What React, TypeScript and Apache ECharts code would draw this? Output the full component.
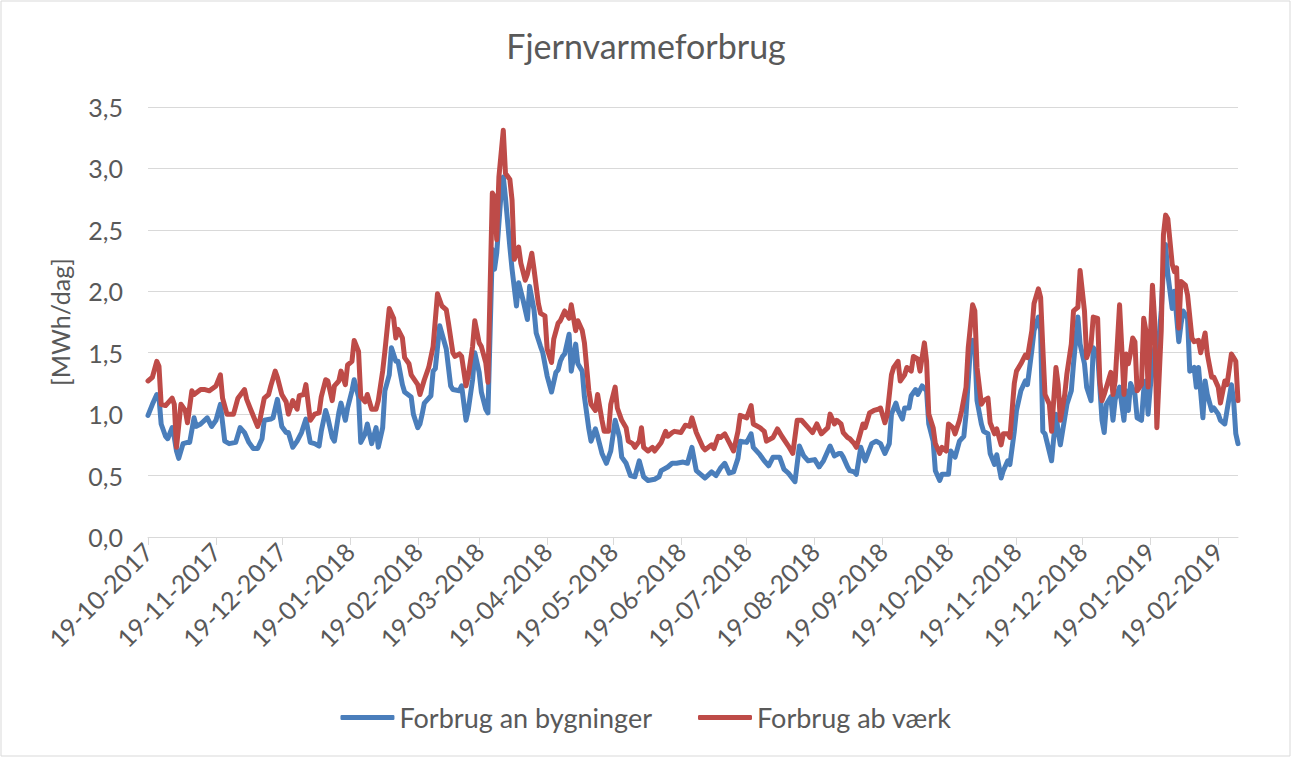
import React, { useEffect, useRef } from "react";
import * as echarts from "echarts";

const chartTitle = "Fjernvarmeforbrug";
const yAxisName = "[MWh/dag]";
const seriesNames = ["Forbrug an bygninger", "Forbrug ab værk"];
const startDate = [2017, 10, 19]; // first day on the axis
const dayCount = 498; // 19-10-2017 .. 28-02-2019
const yTicks = [0, 0.5, 1, 1.5, 2, 2.5, 3, 3.5];

// Forbrug an bygninger (blue): day offset from 19-10-2017 and MWh/dag
const blueDays = [0,2,4,5,6,8,9,11,12,13,14,16,18,19,21,22,24,27,29,31,33,35,37,40,42,44,46,48,50,52,53,56,57,59,61,63,64,66,68,70,72,74,76,78,79,81,82,84,85,87,88,90,91,93,94,96,97,99,100,102,104,105,107,108,110,111,113,114,116,117,120,121,123,124,125,126,127,129,130,131,133,136,138,139,142,143,145,146,148,149,151,152,154,155,157,158,159,161,162,163,165,166,168,169,171,173,174,176,177,179,180,182,184,186,187,188,189,190,192,193,195,196,198,199,201,202,204,205,207,209,211,213,215,216,218,220,222,224,226,228,231,233,234,237,239,241,244,246,248,250,252,254,257,259,261,263,265,267,269,270,273,275,276,279,281,283,285,288,290,292,295,297,299,301,304,306,308,311,313,315,316,317,319,320,322,323,325,327,330,332,334,336,338,339,341,342,344,345,347,348,350,351,353,355,356,358,359,361,362,365,366,368,370,372,373,375,376,377,378,380,381,383,384,386,387,389,390,392,393,395,396,398,400,401,403,404,406,407,408,409,412,414,415,416,418,419,421,422,424,425,427,428,430,431,433,435,436,437,439,440,441,443,444,445,446,447,448,450,451,453,454,455,456,457,459,460,462,463,464,465,467,468,470,471,472,474,475,477,478,479,481,482,483,485,486,488,489,491,492,494,495,496,497];
const blueValues = [0.99,1.08,1.16,1.14,0.92,0.82,0.80,0.89,0.81,0.70,0.64,0.76,0.77,0.77,0.97,0.90,0.92,0.97,0.90,0.95,1.08,0.78,0.76,0.77,0.89,0.85,0.77,0.72,0.72,0.80,0.95,0.96,0.97,1.12,0.90,0.85,0.85,0.73,0.78,0.85,0.96,0.77,0.76,0.74,0.86,1.03,0.97,0.81,0.78,1.01,1.09,0.95,1.05,1.19,1.28,1.14,0.77,0.84,0.92,0.76,0.89,0.73,0.89,1.19,1.32,1.54,1.43,1.43,1.24,1.18,1.14,1.00,0.89,0.92,1.00,1.09,1.11,1.15,1.35,1.37,1.72,1.53,1.23,1.20,1.19,1.23,0.95,1.03,1.28,1.50,1.34,1.18,1.04,1.01,2.34,2.18,2.31,2.80,2.93,2.76,2.36,2.18,1.88,2.07,1.93,1.77,2.04,1.85,1.66,1.55,1.50,1.31,1.18,1.34,1.36,1.43,1.47,1.49,1.65,1.35,1.57,1.41,1.35,1.14,0.88,0.78,0.88,0.82,0.68,0.60,0.70,0.95,0.81,0.65,0.60,0.50,0.49,0.62,0.49,0.46,0.47,0.49,0.54,0.57,0.60,0.60,0.61,0.60,0.73,0.54,0.51,0.48,0.53,0.50,0.56,0.60,0.52,0.53,0.64,0.78,0.77,0.84,0.73,0.67,0.62,0.58,0.65,0.65,0.55,0.52,0.45,0.74,0.66,0.62,0.63,0.57,0.62,0.74,0.66,0.68,0.68,0.65,0.57,0.54,0.53,0.51,0.73,0.62,0.76,0.78,0.76,0.68,0.76,1.00,1.09,1.03,0.96,1.05,1.05,1.15,1.20,1.16,1.23,1.19,0.92,0.78,0.54,0.46,0.51,0.51,0.70,0.65,0.78,0.82,1.00,1.54,1.60,1.54,1.11,0.92,0.86,0.84,0.68,0.59,0.67,0.48,0.54,0.62,0.59,0.86,1.03,1.19,1.27,1.24,1.52,1.68,1.79,1.68,0.86,0.84,0.62,1.00,0.86,0.75,0.97,1.08,1.19,1.41,1.79,1.57,1.41,1.22,1.11,1.54,1.49,0.95,0.85,1.08,1.14,0.95,1.12,1.22,1.08,0.95,1.19,1.03,1.25,1.16,0.97,0.95,1.19,1.27,1.00,1.22,1.54,1.41,1.84,2.19,2.38,2.14,1.86,2.00,1.59,1.73,1.84,1.78,1.35,1.38,1.22,1.38,0.97,1.27,1.16,1.03,1.05,1.00,0.95,0.92,1.03,1.24,1.11,0.84,0.76];

// Forbrug ab værk (red)
const redDays = [0,2,4,5,6,8,11,12,13,15,17,18,20,21,24,26,28,31,33,34,36,39,41,44,45,47,50,51,53,55,56,58,59,61,63,64,66,68,69,71,72,74,76,78,79,81,82,84,85,87,88,90,91,93,94,96,97,99,100,102,104,105,107,108,110,112,113,114,116,117,119,120,123,124,126,128,130,132,134,136,137,139,140,142,143,145,146,148,149,151,152,154,155,157,158,159,160,162,163,165,166,167,169,170,172,173,175,176,178,179,181,182,184,185,187,188,190,192,193,195,196,198,199,201,202,204,205,207,208,210,211,213,214,216,218,219,221,222,224,225,226,228,230,231,234,236,237,239,240,243,245,247,248,250,251,253,254,257,258,260,261,263,265,267,269,270,273,275,276,279,281,282,285,287,289,292,294,296,298,301,303,305,307,310,311,313,314,316,317,319,320,322,323,326,327,329,331,333,334,336,337,339,340,342,343,345,346,348,349,351,352,354,355,356,358,359,361,362,364,365,367,368,370,371,373,374,376,377,378,380,381,383,384,386,387,389,390,392,393,395,396,398,400,401,403,404,406,407,408,409,411,412,414,415,416,418,419,421,422,424,425,427,428,430,431,433,434,435,436,437,439,440,441,443,444,445,446,447,448,449,450,451,453,454,455,456,457,458,459,460,462,463,464,465,467,468,469,470,471,473,474,476,477,479,480,482,483,485,486,488,489,491,492,494,495,496,497];
const redValues = [1.27,1.30,1.43,1.39,1.08,1.07,1.13,1.08,0.73,1.08,1.03,0.93,1.19,1.16,1.20,1.20,1.19,1.23,1.32,1.13,1.00,1.00,1.13,1.20,1.12,1.03,0.90,0.95,1.13,1.16,1.23,1.35,1.30,1.16,1.10,1.00,1.11,1.04,1.15,1.16,1.24,0.95,1.00,1.01,1.14,1.28,1.27,1.11,1.23,1.27,1.35,1.24,1.40,1.43,1.60,1.51,1.14,1.10,1.16,1.04,1.04,1.11,1.35,1.51,1.86,1.78,1.62,1.69,1.62,1.46,1.41,1.32,1.24,1.16,1.28,1.38,1.55,1.98,1.88,1.85,1.74,1.50,1.47,1.49,1.47,1.23,1.31,1.55,1.76,1.58,1.55,1.42,1.26,2.80,2.77,2.42,2.93,3.31,2.96,2.91,2.74,2.26,2.36,2.23,2.09,2.14,2.31,2.18,1.90,1.82,1.80,1.53,1.42,1.61,1.74,1.76,1.84,1.78,1.89,1.68,1.76,1.68,1.58,1.19,1.08,1.03,1.16,0.95,0.86,0.86,1.08,1.22,1.05,0.95,0.89,0.78,0.76,0.73,0.78,0.89,0.73,0.70,0.73,0.70,0.77,0.86,0.82,0.85,0.86,0.85,0.91,0.90,0.97,0.85,0.81,0.73,0.71,0.75,0.72,0.82,0.81,0.84,0.77,0.70,0.86,0.99,0.97,1.07,0.92,0.89,0.86,0.78,0.81,0.88,0.82,0.74,0.68,0.95,0.95,0.89,0.85,0.92,0.84,0.89,1.00,0.92,0.95,0.92,0.85,0.81,0.80,0.76,0.73,0.92,0.89,1.01,1.03,1.04,1.05,0.93,0.99,1.32,1.38,1.43,1.27,1.32,1.38,1.35,1.47,1.45,1.35,1.58,1.43,1.00,0.89,0.76,0.68,0.73,0.70,0.92,0.89,0.84,0.95,1.03,1.22,1.54,1.89,1.84,1.38,1.08,1.11,1.13,0.93,0.84,0.88,0.75,0.84,0.84,0.81,1.25,1.35,1.41,1.48,1.46,1.68,1.90,2.02,1.95,1.54,1.16,1.08,0.86,1.38,1.24,0.95,1.16,1.33,1.57,1.84,1.87,2.17,1.84,1.46,1.57,1.79,1.78,1.27,1.11,1.16,1.22,1.34,1.16,1.27,1.89,1.54,1.16,1.49,1.41,1.50,1.62,1.59,1.19,1.24,1.78,1.68,1.22,1.59,2.05,1.76,0.89,1.68,2.46,2.62,2.59,2.22,2.16,2.19,1.70,2.08,2.05,1.97,1.62,1.59,1.60,1.50,1.66,1.49,1.30,1.30,1.22,1.09,1.27,1.24,1.49,1.46,1.43,1.11];

const blueColor = "#4a7ebb";
const redColor = "#be4b48";
const textColor = "#595959";
const gridColor = "#d9d9d9";
const fontFamily = "Lato, 'Liberation Sans', sans-serif";

function pad(n: number) {
  return n < 10 ? "0" + n : String(n);
}

function buildCategories(): string[] {
  const out: string[] = [];
  for (let i = 0; i < dayCount; i++) {
    const d = new Date(Date.UTC(startDate[0], startDate[1] - 1, startDate[2] + i));
    out.push(pad(d.getUTCDate()) + "-" + pad(d.getUTCMonth() + 1) + "-" + d.getUTCFullYear());
  }
  return out;
}

function zip(days: number[], vals: number[]) {
  return days.map((d, i) => [d, vals[i]]);
}

export default function App() {
  const ref = useRef<HTMLDivElement>(null);
  useEffect(() => {
    if (!ref.current) return;
    const chart = echarts.init(ref.current, undefined, { renderer: "svg" });
    const categories = buildCategories();
    const isTick = (idx: number, val: string) => val.startsWith("19-");
    chart.setOption({
      animation: false,
      backgroundColor: "#ffffff",
      textStyle: { fontFamily },
      title: {
        text: chartTitle,
        left: "center",
        top: 23,
        textStyle: { color: textColor, fontSize: 34, fontWeight: "normal", fontFamily },
      },
      graphic: [
        {
          type: "rect",
          shape: { x: 1, y: 1, width: 1289, height: 755 },
          style: { fill: "none", stroke: gridColor, lineWidth: 1 },
          silent: true,
        },
      ],
      legend: {
        bottom: 22,
        left: "center",
        itemWidth: 54,
        itemHeight: 5,
        itemGap: 46,
        icon: "roundRect",
        textStyle: { color: textColor, fontSize: 27, fontFamily },
        data: seriesNames,
      },
      grid: { left: 148, right: 54, top: 107, bottom: 221, containLabel: false },
      xAxis: {
        type: "category",
        data: categories,
        boundaryGap: false,
        axisLine: { show: true, lineStyle: { color: gridColor, width: 1 } },
        axisTick: { show: true, interval: isTick, length: 8, lineStyle: { color: gridColor } },
        axisLabel: {
          interval: isTick,
          rotate: 45,
          color: textColor,
          fontSize: 25,
          margin: 10,
          fontFamily,
        },
        splitLine: { show: false },
      },
      yAxis: {
        type: "value",
        min: yTicks[0],
        max: yTicks[yTicks.length - 1],
        interval: 0.5,
        name: yAxisName,
        nameLocation: "middle",
        nameGap: 76,
        nameTextStyle: { color: textColor, fontSize: 25, fontFamily },
        axisLine: { show: false },
        axisTick: { show: false },
        axisLabel: {
          color: textColor,
          fontSize: 25,
          margin: 25,
          fontFamily,
          formatter: (v: number) => v.toFixed(1).replace(".", ","),
        },
        splitLine: { show: true, lineStyle: { color: gridColor, width: 1 } },
      },
      series: [
        {
          name: seriesNames[0],
          type: "line",
          data: zip(blueDays, blueValues),
          showSymbol: false,
          symbol: "none",
          lineStyle: { color: blueColor, width: 5, join: "round", cap: "round" },
          itemStyle: { color: blueColor },
        },
        {
          name: seriesNames[1],
          type: "line",
          data: zip(redDays, redValues),
          showSymbol: false,
          symbol: "none",
          lineStyle: { color: redColor, width: 5, join: "round", cap: "round" },
          itemStyle: { color: redColor },
        },
      ],
    });
    return () => chart.dispose();
  }, []);
  return (
    <div
      ref={ref}
      style={{ position: "fixed", left: 0, top: 0, width: 1292, height: 758, background: "#fff" }}
    />
  );
}
